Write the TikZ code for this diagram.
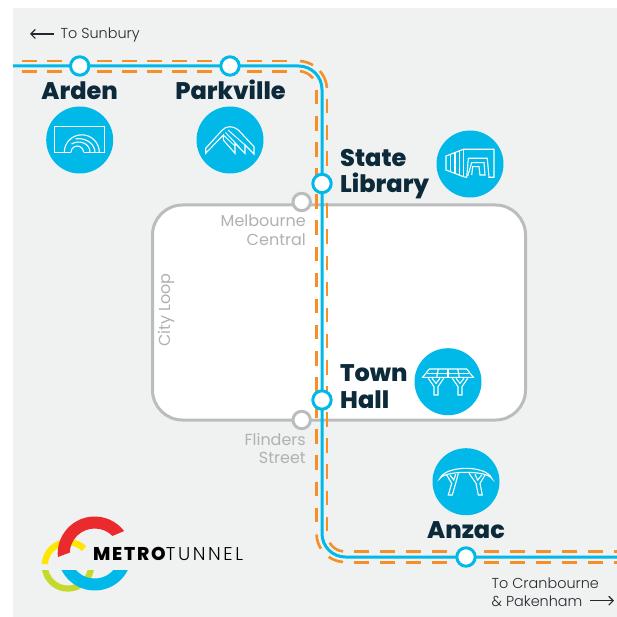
\documentclass[tikz,border=0pt]{standalone}
\usepackage{fontspec}
\usetikzlibrary{arrows.meta,calc}
\newfontfamily\labfont{Poppins ExtraBold}
\newfontfamily\thinfont{Poppins Light}
\newfontfamily\regfont{Poppins}
\definecolor{bgcol}{HTML}{F0F1F1}
\definecolor{cyanline}{HTML}{00B9E8}
\definecolor{orangeline}{HTML}{F58F2A}
\definecolor{loopgray}{HTML}{BABCBE}
\definecolor{loopgraytext}{HTML}{AFB1B3}
\definecolor{navy}{HTML}{0C2A3A}
\definecolor{darktext}{HTML}{222A2E}
\definecolor{logored}{HTML}{EA2A2D}
\definecolor{logoyellow}{HTML}{FFE600}
\definecolor{logolime}{HTML}{C5D92D}
\tikzset{
  x=1pt,y=-1pt,
  metroline/.style={draw=cyanline,line width=3pt,rounded corners=23.5pt},
  orangebase/.style={draw=orangeline,line width=2.6pt},
  orangeh/.style={orangebase,dash pattern=on 15pt off 10pt},
  orangeb/.style={orangebase,dash pattern=on 15pt off 11pt},
  orangev/.style={orangebase,dash pattern=on 14.5pt off 11.6pt},
  stationnode/.style={circle,draw=cyanline,fill=white,line width=3pt,minimum size=18.4pt,inner sep=0pt},
  loopstation/.style={circle,draw=loopgray,fill=white,line width=3pt,minimum size=17.4pt,inner sep=0pt},
  disc/.style={circle,fill=cyanline,minimum size=67pt,inner sep=0pt},
  icon/.style={draw=white,line width=1.1pt,line join=miter},
  stationlabel/.style={font=\labfont\fontsize{24}{24}\selectfont,text=navy,inner sep=0pt},
  looplabel/.style={font=\regfont\fontsize{16}{16}\selectfont,text=loopgraytext,inner sep=0pt},
  dirlabel/.style={font=\thinfont\fontsize{14.4}{14.4}\selectfont,text=darktext,inner sep=0pt},
  dirarrow/.style={draw=darktext,line width=1.1pt,-{Straight Barb[length=4.5pt,width=9pt]}},
}
\begin{document}
\begin{tikzpicture}
\useasboundingbox (0,0) rectangle (617,617);
\fill[bgcol] (13,8) rectangle (617,617);
% city loop
\node[draw=loopgray,fill=white,line width=3pt,rounded corners=30pt,minimum width=373pt,minimum height=215pt,inner sep=0pt] (cityloop) at (339,312.5) {};
% coordinates
\coordinate (west) at (13,66);
\coordinate (arden) at (79.7,66);
\coordinate (parkville) at (230,66);
\coordinate (cornerNE) at (322,66);
\coordinate (statelib) at (322,183.5);
\coordinate (townhall) at (322,400);
\coordinate (cornerSW) at (322,557);
\coordinate (anzac) at (466,557);
\coordinate (east) at (617,557);
% orange horizontal rows and verticals
\coordinate (oa1) at (22,61);   \coordinate (oa2) at (290,61);
\coordinate (ob1) at (22,71.3); \coordinate (ob2) at (290,71.3);
\coordinate (oc1) at (316.7,90); \coordinate (oc2) at (316.7,532);
\coordinate (od1) at (327,99);  \coordinate (od2) at (327,531);
\coordinate (oe1) at (354,551.7); \coordinate (oe2) at (617,551.7);
\coordinate (of1) at (354,562.3); \coordinate (of2) at (617,562.3);
\coordinate (topc) at (298,90);
\coordinate (botc) at (345,533.5);
\draw[orangeh] (oa1) -- (oa2);
\draw[orangeh] (ob1) -- (ob2);
\draw[orangev] (oc1) -- (oc2);
\draw[orangev] (od1) -- (od2);
\draw[orangeb] (oe1) -- (oe2);
\draw[orangeb] (of1) -- (of2);
\draw[orangebase] (topc) ++(-86:29) arc[start angle=-86,end angle=-59,radius=29];
\draw[orangebase] (topc) ++(-41:29) arc[start angle=-41,end angle=-4,radius=29];
\draw[orangebase] (topc) ++(-84:19) arc[start angle=-84,end angle=-38,radius=19];
\draw[orangebase] (botc) ++(149:18) arc[start angle=149,end angle=96,radius=18];
\draw[orangebase] (botc) ++(178:28.5) arc[start angle=178,end angle=148,radius=28.5];
\draw[orangebase] (botc) ++(125:28.5) arc[start angle=125,end angle=94,radius=28.5];
% cyan line
\draw[metroline] (west) -- (arden) -- (parkville) -- (cornerNE) -- (statelib) -- (townhall) -- (cornerSW) -- (anzac) -- (east);
% stations
\node[loopstation] (stMelb) at (301.7,202) {};
\node[loopstation] (stFlin) at (301.7,420) {};
\node[stationnode] (stArden) at (arden) {};
\node[stationnode] (stPark) at (parkville) {};
\node[stationnode] (stState) at (statelib) {};
\node[stationnode] (stTown) at (townhall) {};
\node[stationnode] (stAnzac) at (anzac) {};
% discs
\node[disc] (discArden) at (79.7,140) {};
\node[disc] (discPark) at (230,140) {};
\node[disc] (discState) at (470,164) {};
\node[disc] (discTown) at (448,381.7) {};
\node[disc] (discAnzac) at (466,481.7) {};
% station labels
\node[stationlabel,anchor=base] (lArden) at (79.7,100) {Arden};
\node[stationlabel,anchor=base] (lPark) at (230.5,100) {Parkville};
\node[stationlabel,anchor=base west] (lState) at (340,166.7) {State};
\node[stationlabel,anchor=base west] (lLib) at (340,192.7) {Library};
\node[stationlabel,anchor=base west] (lTown) at (340,381.7) {Town};
\node[stationlabel,anchor=base west] (lHall) at (340,408) {Hall};
\node[stationlabel,anchor=base] (lAnzac) at (466,538) {Anzac};
% loop labels
\node[looplabel,anchor=base east] (lMelb) at (306,226.5) {Melbourne};
\node[looplabel,anchor=base east] (lCent) at (306,245) {Central};
\node[looplabel,anchor=base east] (lFlin) at (306,445) {Flinders};
\node[looplabel,anchor=base east] (lStr) at (306,463.5) {Street};
\node[looplabel,rotate=90] (lLoop) at (166,310) {City Loop};
% direction labels
\node[dirlabel,anchor=base west] (lSun) at (60.5,38.7) {To Sunbury};
\node[dirlabel,anchor=base west] (lCran) at (491.5,588) {To Cranbourne};
\node[dirlabel,anchor=base west] (lPak) at (491.5,606.5) {\& Pakenham};
\coordinate (arrS1) at (54,34); \coordinate (arrS2) at (30,34);
\coordinate (arrC1) at (590,600.7); \coordinate (arrC2) at (614,600.7);
\draw[dirarrow] (arrS1) -- (arrS2);
\draw[dirarrow] (arrC1) -- (arrC2);
% icon Arden
\draw[icon] (71,152.3) -- (54.3,152.3) -- (54.3,126.7) -- (104.7,126.7) -- (104.7,152.3) -- (83.5,152.3);
\draw[icon] (64.3,152.3) arc[start angle=180,end angle=360,radius=17.5];
\draw[icon] (71,152.3) arc[start angle=180,end angle=360,radius=6.25];
\draw[icon] (71.5,144) .. controls (79,139.5) and (90,143) .. (90,152.3);
\draw[icon] (75.5,139) .. controls (84,137) and (95,143) .. (95,152.3);
% icon Parkville
\draw[icon] (205.7,148.3) -- (221.7,130.7) .. controls (226,125.5) and (233,125.5) .. (238.3,130) -- (254,146.7) -- (254,154) -- (245,145) -- (245,153.3) -- (235,143.3) -- (235,153.3) -- (223.3,140) -- (223.3,135) -- (205.7,153.3) -- cycle;
\draw[icon,line width=.9pt] (223.3,135) -- (235,146);
\draw[icon,line width=.9pt] (225.5,132.5) -- (240,148);
\draw[icon,line width=.9pt] (228,130) -- (245,145);
% icon State Library
\draw[icon] (446,156) -- (463.3,149.3) -- (494,149.3) -- (494,177.3) -- (489,177.3) -- (487.3,158.3) -- (468.3,158.3) -- (466.7,177.3) -- (463.3,176.7) -- (446,170) -- cycle;
\draw[icon] (467.7,176) -- (471.7,162.7) -- (484,162.7) -- (485,175) -- (480,175) -- (479,166.7) -- (472.7,166.7) -- (471.7,175);
\draw[icon] (450.7,155) -- (450.7,171);
\draw[icon] (455,153) -- (455,173);
\draw[icon] (459.3,151) -- (459.3,175);
\draw[icon] (463.3,149.3) -- (463.3,176.7);
% icon Town Hall
\draw[icon] (422.7,377.3) -- (429.3,369) -- (466.7,369) -- (473.3,377.3) -- cycle;
\draw[icon] (426.7,373.3) -- (469.3,373.3);
\draw[icon] (438.3,369) -- (436.7,377.3);
\draw[icon] (448,369) -- (448,377.3);
\draw[icon] (457.7,369) -- (459.3,377.3);
\draw[icon] (428.3,378.3) -- (434,386.7) -- (434,395) -- (438,395) -- (438,386.7) -- (443.7,378.3);
\draw[icon] (432,378.3) -- (436,383.3) -- (440,378.3);
\draw[icon] (452.3,378.3) -- (458,386.7) -- (458,395) -- (462,395) -- (462,386.7) -- (467.7,378.3);
\draw[icon] (456,378.3) -- (460,383.3) -- (464,378.3);
% icon Anzac
\draw[icon] (440,478.3) .. controls (446,465) and (486,465) .. (491.7,478.3) .. controls (486,470.3) and (446,470.3) .. (440,478.3) -- cycle;
\draw[icon] (446.7,475) -- (451.7,483.3) -- (448.3,495) -- (452.3,495) -- (455.7,483.3) -- (458.3,473.3);
\draw[icon] (450,475) -- (453.7,480) -- (455.7,474.3);
\draw[icon] (485,475) -- (480,483.3) -- (482.3,495) -- (478.3,495) -- (476,483.3) -- (469,473.3);
\draw[icon] (481.7,475) -- (477.7,480) -- (475,474.3);
% logo
\coordinate (ringA) at (68,565.3);
\coordinate (ringB) at (94.7,553.5);
\fill[logoyellow] (ringA) ++(-177:26.4) arc[start angle=-177,end angle=-46,radius=26.4] -- ($(ringA)+(-46:20)$) arc[start angle=-46,end angle=-177,radius=20] -- cycle;
\fill[logolime] (ringA) ++(10.3:26.4) arc[start angle=10.3,end angle=169.7,radius=26.4] -- ($(ringA)+(166.4:20.2)$) arc[start angle=166.4,end angle=13.6,radius=20.2] -- cycle;
\fill[cyanline] (ringB) ++(26.5:37) arc[start angle=26.5,end angle=153.5,radius=37] -- ($(ringB)+(138.7:25)$) arc[start angle=138.7,end angle=41.3,radius=25] -- cycle;
\fill[logored] (ringB) ++(-185.4:37) arc[start angle=-185.4,end angle=-37.3,radius=37] -- ($(ringB)+(-44.7:25)$) arc[start angle=-44.7,end angle=-178,radius=25] -- cycle;
\node[anchor=base west,inner sep=0pt,text=black] (logotext) at (92.8,560) {\fontsize{18.5}{18.5}\selectfont{\labfont\addfontfeature{LetterSpace=10}METRO}{\thinfont\addfontfeature{LetterSpace=14}TUNNEL}};
\end{tikzpicture}
\end{document}
